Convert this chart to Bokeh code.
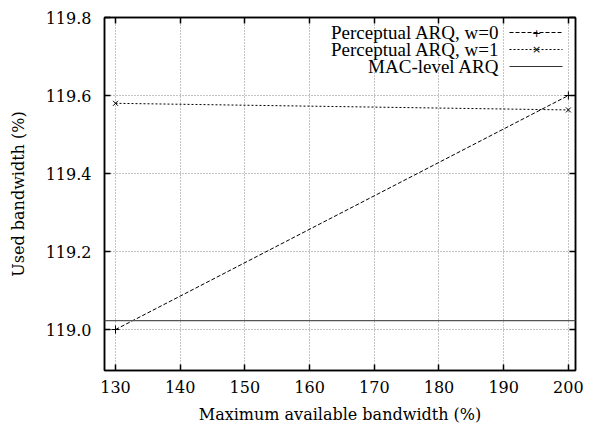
from bokeh.plotting import figure
from bokeh.models import (Range1d, FixedTicker, PrintfTickFormatter, LinearAxis, Label, Arrow, Span,
                          CustomJSTickFormatter)
from bokeh.embed import file_html
from bokeh.resources import INLINE

bandwidth = [130, 200]
perc_w0 = [119.0, 119.6]
perc_w1 = [119.58, 119.563]
mac_level = 119.023

x_ticks = [130, 140, 150, 160, 170, 180, 190, 200]
y_ticks = [119.0, 119.2, 119.4, 119.6, 119.8]

AX_FONT = "DejaVu Serif"
AX_FS = "16px"
LEG_FONT = "Liberation Serif"
LEG_FS = "19px"

p = figure(width=586, height=426, output_backend="svg", toolbar_location=None,
           x_range=Range1d(128.3, 201.1), y_range=Range1d(118.895, 119.8),
           min_border_left=104, min_border_right=11, min_border_top=17, min_border_bottom=55)
p.outline_line_color = "black"
p.outline_line_width = 1.5
p.background_fill_color = "white"

for ax in (p.xaxis[0], p.yaxis[0]):
    ax.major_tick_in = 6
    ax.major_tick_out = 0
    ax.minor_tick_in = 0
    ax.minor_tick_out = 0
    ax.axis_line_color = "black"
    ax.axis_line_width = 1.5
    ax.major_tick_line_width = 1.5
    ax.major_label_text_font = AX_FONT
    ax.major_label_text_font_size = AX_FS
    ax.major_label_text_color = "black"
    ax.axis_label_text_font = AX_FONT
    ax.axis_label_text_font_size = AX_FS
    ax.axis_label_text_font_style = "normal"
    ax.axis_label_text_color = "black"

p.xaxis[0].ticker = FixedTicker(ticks=x_ticks)
p.yaxis[0].ticker = FixedTicker(ticks=y_ticks)
p.yaxis[0].formatter = PrintfTickFormatter(format="%.1f")
p.xaxis[0].axis_label = "Maximum available bandwidth (%)"
p.yaxis[0].axis_label = "Used bandwidth (%)"
p.xaxis[0].major_label_standoff = 10
p.yaxis[0].major_label_standoff = 13
p.xaxis[0].axis_label_standoff = 9
p.yaxis[0].axis_label_standoff = 15

# mirror axes (ticks only)
blank = CustomJSTickFormatter(code="return '';")
top = LinearAxis(ticker=FixedTicker(ticks=x_ticks), formatter=blank,
                 major_tick_in=6, major_tick_out=0, minor_tick_in=0, minor_tick_out=0,
                 axis_line_width=1.5, major_tick_line_width=1.5)
right = LinearAxis(ticker=FixedTicker(ticks=y_ticks), formatter=blank,
                   major_tick_in=6, major_tick_out=0, minor_tick_in=0, minor_tick_out=0,
                   axis_line_width=1.5, major_tick_line_width=1.5)
p.add_layout(top, "above")
p.add_layout(right, "right")

for g in (p.xgrid[0], p.ygrid[0]):
    g.grid_line_color = "#888888"
    g.grid_line_dash = "1 2"
    g.grid_line_width = 1
p.xgrid[0].ticker = FixedTicker(ticks=x_ticks)
p.ygrid[0].ticker = FixedTicker(ticks=y_ticks)

# data
p.line(bandwidth, perc_w0, line_color="black", line_dash="4 2", line_width=1)
p.scatter(bandwidth, perc_w0, marker="cross", size=8, line_color="black", line_width=1)
p.line(bandwidth, perc_w1, line_color="black", line_dash="2 2", line_width=1)
p.scatter(bandwidth, perc_w1, marker="x", size=7, line_color="black", line_width=1)
p.add_layout(Span(location=mac_level, dimension="width", line_color="#555555", line_width=1.2))

# custom legend (text right-aligned, sample on the right); screen units are frame-relative
labels = ["Perceptual ARQ, w=0", "Perceptual ARQ, w=1", "MAC-level ARQ"]
dashes = ["4 2", "2 2", "solid"]
marks = ["+", "×", None]
for i, (lab, d, m) in enumerate(zip(labels, dashes, marks)):
    ys = 338 - i * 17
    p.add_layout(Label(x=395, y=ys, x_units="screen", y_units="screen", text=lab,
                       text_align="right", text_baseline="middle", text_font=LEG_FONT,
                       text_font_size=LEG_FS, text_color="black"))
    p.add_layout(Arrow(end=None, x_start=405, y_start=ys, x_end=458, y_end=ys,
                       start_units="screen", end_units="screen",
                       line_color="black" if m else "#333333", line_dash=d, line_width=1))
    if m:
        p.add_layout(Label(x=432, y=ys, x_units="screen", y_units="screen", text=m,
                           text_align="center", text_baseline="middle",
                           text_font="DejaVu Sans", text_font_size="11px", text_color="black"))

open("out.html", "w").write(file_html(p, INLINE))
